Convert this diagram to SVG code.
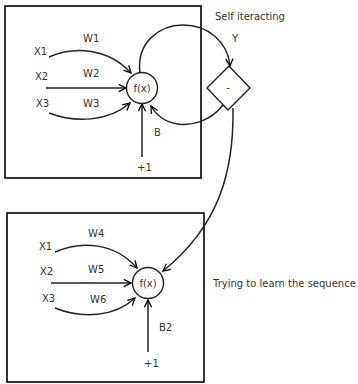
<svg xmlns="http://www.w3.org/2000/svg" width="358" height="384" viewBox="0 0 358 384">
  <defs>
    <marker id="arrow" viewBox="0 0 10 10" refX="9" refY="5" markerWidth="9" markerHeight="9" markerUnits="userSpaceOnUse" orient="auto">
      <path d="M1,1 L9,5 L1,9" fill="none" stroke="#000" stroke-width="1.4"/>
    </marker>
    <style>
      .box { fill: #fff; stroke: #000; stroke-width: 1.6; }
      .node { fill: #fff; stroke: #222; stroke-width: 1.4; }
      .edge { fill: none; stroke: #222; stroke-width: 1.5; marker-end: url(#arrow); }
      .lbl { font-family: "DejaVu Sans", sans-serif; font-size: 10px; fill: #333; }
      .mid { text-anchor: middle; }
    </style>
  </defs>
  <rect width="358" height="384" fill="#fff"/>

  <!-- layer frames -->
  <g id="frame-top"><rect class="box" x="5" y="6" width="196" height="172"/></g>
  <g id="frame-bottom"><rect class="box" x="7" y="213" width="197" height="169"/></g>

  <!-- connectors -->
  <g id="connectors">
    <path class="edge" d="M49,57 C75,46 108,48 131,73"/>
    <path class="edge" d="M46,88 L126,88"/>
    <path class="edge" d="M49,113 C75,123 108,122 130,103"/>
    <path class="edge" d="M142,157 L142,104"/>
    <path class="edge" d="M140,73 C136,42 160,25 183,25 C208,25 228,42 230,66"/>
    <path class="edge" d="M223,105 C210,122 190,126 178,124 C165,122 156,115 151,106"/>
    <path class="edge" d="M233,108 C234,170 220,225 163,271"/>
    <path class="edge" d="M55,252 C82,240 115,243 137,268"/>
    <path class="edge" d="M51,283 L131,283"/>
    <path class="edge" d="M55,308 C82,319 115,317 135,298"/>
    <path class="edge" d="M148,352 L148,300"/>
  </g>

  <!-- top neuron -->
  <g id="neuron-top">
    <circle class="node" cx="142" cy="88" r="15.5"/>
    <text class="lbl mid" x="142" y="92">f(x)</text>
  </g>

  <!-- difference node -->
  <g id="diff">
    <polygon class="node" points="229,66 250,88 228,110 207,88"/>
    <text class="lbl mid" x="228" y="91">-</text>
  </g>

  <!-- bottom neuron -->
  <g id="neuron-bottom">
    <circle class="node" cx="148" cy="283" r="15.5"/>
    <text class="lbl mid" x="148" y="287">f(x)</text>
  </g>

  <!-- labels -->
  <g id="labels">
    <text class="lbl" x="34" y="55">X1</text>
    <text class="lbl" x="83" y="42">W1</text>
    <text class="lbl" x="35" y="80">X2</text>
    <text class="lbl" x="83" y="77">W2</text>
    <text class="lbl" x="36" y="107">X3</text>
    <text class="lbl" x="83" y="107">W3</text>
    <text class="lbl" x="154" y="136">B</text>
    <text class="lbl" x="137" y="171">+1</text>
    <text class="lbl" x="215" y="20">Self iteracting</text>
    <text class="lbl" x="232" y="42">Y</text>

    <text class="lbl" x="39" y="250">X1</text>
    <text class="lbl" x="88" y="237">W4</text>
    <text class="lbl" x="40" y="275">X2</text>
    <text class="lbl" x="88" y="273">W5</text>
    <text class="lbl" x="42" y="302">X3</text>
    <text class="lbl" x="90" y="303">W6</text>
    <text class="lbl" x="159" y="331">B2</text>
    <text class="lbl" x="144" y="367">+1</text>
    <text class="lbl" x="213" y="287">Trying to learn the sequence</text>
  </g>
</svg>
